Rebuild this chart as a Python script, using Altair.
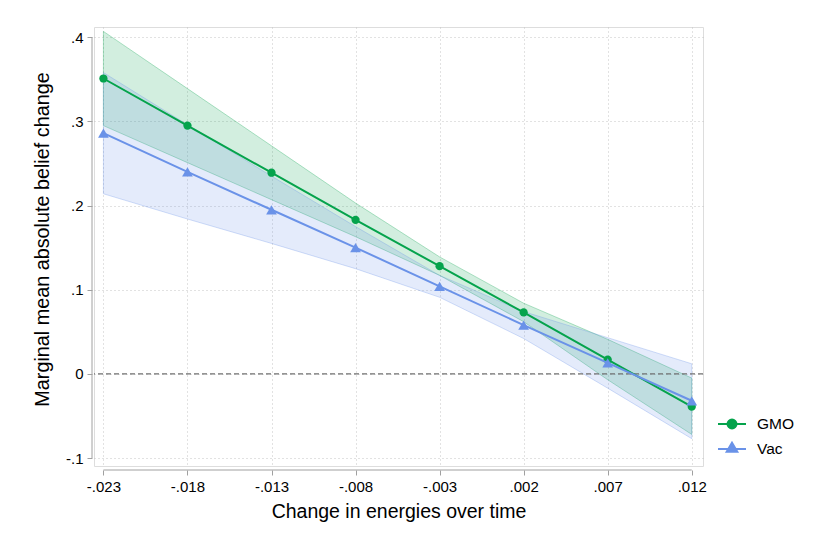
import altair as alt
import pandas as pd

# ---------------- data ----------------
series_names = ["GMO", "Vac"]
x_vals = [-0.023, -0.018, -0.013, -0.008, -0.003, 0.002, 0.007, 0.012]
x_tick_labels = ["-.023", "-.018", "-.013", "-.008", "-.003", ".002", ".007", ".012"]

gmo_mean = [0.351, 0.295, 0.239, 0.183, 0.128, 0.073, 0.017, -0.039]
gmo_lo = [0.295, 0.251, 0.207, 0.163, 0.117, 0.062, -0.007, -0.072]
gmo_hi = [0.407, 0.339, 0.271, 0.203, 0.139, 0.084, 0.041, -0.005]

vac_mean = [0.286, 0.240, 0.195, 0.150, 0.104, 0.058, 0.013, -0.032]
vac_lo = [0.214, 0.184, 0.155, 0.125, 0.091, 0.042, -0.017, -0.077]
vac_hi = [0.358, 0.296, 0.235, 0.175, 0.117, 0.074, 0.043, 0.012]

y_ticks = [-0.1, 0.0, 0.1, 0.2, 0.3, 0.4]
y_tick_labels = ["-.1", "0", ".1", ".2", ".3", ".4"]
zero_line = [0.0]

rows = []
for name, m, lo, hi in zip(series_names, [gmo_mean, vac_mean], [gmo_lo, vac_lo], [gmo_hi, vac_hi]):
    for xv, a, b, c in zip(x_vals, m, lo, hi):
        rows.append({"series": name, "x": xv, "mean": a, "lo": b, "hi": c})
df = pd.DataFrame(rows)

# ---------------- styling ----------------
GREEN = "#05a34c"
BLUE = "#6a92e8"
colors = [GREEN, BLUE]
FONT = "Liberation Sans"
AXIS_GRAY = "#a0a0a0"
W, H = 609, 439
X_DOM = [-0.02356, 0.01267]
Y_DOM = [-0.1095, 0.4122]


def label_expr(vals, labs):
    expr = ""
    for v, l in zip(vals, labs):
        expr += f"abs(datum.value - ({v})) < 1e-9 ? '{l}' : "
    return expr + "''"


xs = alt.Scale(domain=X_DOM, nice=False, zero=False)
ys = alt.Scale(domain=Y_DOM, nice=False, zero=False)

x_axis = alt.Axis(
    values=x_vals, labelExpr=label_expr(x_vals, x_tick_labels),
    domain=False, ticks=True, tickSize=5, tickColor=AXIS_GRAY, tickWidth=1, offset=4,
    grid=True, gridColor="#c4c4c4", gridDash=[1, 3], gridWidth=1,
    labelFont=FONT, labelFontSize=15, labelColor="#000", labelPadding=4,
    labelFlush=False, labelOverlap=False,
    title="Change in energies over time", titleFont=FONT, titleFontSize=19.5,
    titleFontWeight="normal", titleColor="#000", titleBaseline="middle", titleY=41,
)
y_axis = alt.Axis(
    values=y_ticks, labelExpr=label_expr(y_ticks, y_tick_labels),
    domain=False, ticks=True, tickSize=5, tickColor=AXIS_GRAY, tickWidth=1, offset=2,
    grid=True, gridColor="#c4c4c4", gridDash=[1, 3], gridWidth=1,
    labelFont=FONT, labelFontSize=15, labelColor="#000", labelPadding=4,
    labelFlush=False, labelOverlap=False,
    title="Marginal mean absolute belief change", titleFont=FONT, titleFontSize=19.8,
    titleFontWeight="normal", titleColor="#000", titleBaseline="middle", titleAlign="center",
    titleX=-50, titleY=212,
)

base = alt.Chart(df)

layers = []
# confidence bands
for i, (name, col) in enumerate(zip(series_names, colors)):
    sub = base.transform_filter(alt.datum.series == name)
    enc = dict(x=alt.X("x:Q", scale=xs), y=alt.Y("lo:Q", scale=ys), y2="hi:Q")
    if i == 0:
        enc = dict(x=alt.X("x:Q", scale=xs, axis=x_axis), y=alt.Y("lo:Q", scale=ys, axis=y_axis), y2="hi:Q")
    layers.append(sub.mark_area(color=col, fillOpacity=0.18, stroke=col, strokeOpacity=0.3,
                                strokeWidth=1).encode(**enc))

zero = alt.Chart(pd.DataFrame({"y": zero_line})).mark_rule(
    color="#707070", strokeDash=[5, 3], strokeWidth=1.2
).encode(y=alt.Y("y:Q", scale=ys))

# axis domain lines spanning only the tick range (Stata style)
xdom = alt.Chart(pd.DataFrame({"a": [x_vals[0]], "b": [x_vals[-1]]})).mark_rule(
    color=AXIS_GRAY, strokeWidth=1
).encode(x=alt.X("a:Q", scale=xs), x2="b:Q", y=alt.value(H + 4))
ydom = alt.Chart(pd.DataFrame({"a": [y_ticks[0]], "b": [y_ticks[-1]]})).mark_rule(
    color=AXIS_GRAY, strokeWidth=1
).encode(y=alt.Y("a:Q", scale=ys), y2="b:Q", x=alt.value(-2))

layers += [zero, xdom, ydom]
shapes = ["circle", "triangle-up"]
sizes = [68, 115]
for name, col, shp, sz in zip(series_names, colors, shapes, sizes):
    sub = base.transform_filter(alt.datum.series == name)
    layers.append(sub.mark_line(strokeWidth=2, color=col).encode(
        x=alt.X("x:Q", scale=xs), y=alt.Y("mean:Q", scale=ys)))
    layers.append(sub.mark_point(filled=True, shape=shp, size=sz, opacity=1, color=col).encode(
        x=alt.X("x:Q", scale=xs), y=alt.Y("mean:Q", scale=ys)))

# legend: line + marker symbols
circle_path = "M-1,0L1,0M-0.32,0A0.32,0.32,0,1,1,0.32,0A0.32,0.32,0,1,1,-0.32,0Z"
tri_path = "M-1,0L1,0M0,-0.45L0.38,0.2L-0.38,0.2Z"
leg = alt.Legend(
    title=None, orient="none", legendX=623, legendY=389,
    symbolSize=784, symbolStrokeWidth=2, symbolOpacity=1,
    labelFont=FONT, labelFontSize=15.5, labelColor="#000", labelOffset=10,
    rowPadding=8, clipHeight=16,
)
legend_layer = base.mark_point(opacity=0, filled=False).encode(
    x=alt.X("x:Q", scale=xs), y=alt.Y("mean:Q", scale=ys),
    fill=alt.Fill("series:N", scale=alt.Scale(domain=series_names, range=colors), legend=leg),
    stroke=alt.Stroke("series:N", scale=alt.Scale(domain=series_names, range=colors), legend=leg),
    shape=alt.Shape("series:N", scale=alt.Scale(domain=series_names, range=[circle_path, tri_path]), legend=leg),
)
layers.append(legend_layer)

chart = alt.layer(*layers).properties(
    width=W, height=H,
    autosize=alt.AutoSizeParams(type="none"),
    padding={"left": 86, "top": 19, "right": 119, "bottom": 80},
).configure_view(stroke=None).configure(background="white")

chart.save("out.html", embed_options={"renderer": "svg", "actions": False})
